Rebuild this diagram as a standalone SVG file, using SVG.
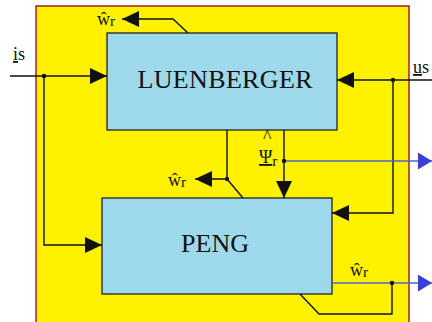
<svg xmlns="http://www.w3.org/2000/svg" width="432" height="322" viewBox="0 0 432 322">
<defs>
<style>
.box{fill:#9DD9EA;stroke:#222;stroke-width:1.3}
.big{font-family:"Liberation Serif",serif;font-size:26px;fill:#111;text-anchor:middle}
.lbl{font-family:"Liberation Serif",serif;font-size:18px;fill:#111}
.sub{font-size:15px}
.w{fill:none;stroke:#111;stroke-width:1.4}
.b{fill:none;stroke:#5060D0;stroke-width:1.6}
.dot{fill:#111}
</style>
<marker id="ah" markerUnits="userSpaceOnUse" markerWidth="17" markerHeight="16" viewBox="0 0 17 16" refX="17" refY="8" orient="auto">
<path d="M0,0 L17,8 L0,16 Z" fill="#111"/>
</marker>
<marker id="bh" markerUnits="userSpaceOnUse" markerWidth="14" markerHeight="17" viewBox="0 0 14 17" refX="14" refY="8.5" orient="auto">
<path d="M0,0 L14,8.5 L0,17 Z" fill="#3A3FD8"/>
</marker>
</defs>
<rect x="36" y="6" width="373" height="330" fill="#FFF200" stroke="#A8202A" stroke-width="1.5"/>
<g id="luenberger">
<rect class="box" x="107" y="33" width="230" height="97"/>
<text class="big" x="225" y="88" textLength="175">LUENBERGER</text>
</g>
<g id="peng">
<rect class="box" x="102" y="198" width="230" height="96"/>
<text class="big" x="215" y="252">PENG</text>
</g>
<g id="connectors">
<path class="w" d="M10,76 H107" marker-end="url(#ah)"/>
<path class="w" d="M44,76 V245 H102" marker-end="url(#ah)"/>
<path class="w" d="M432,80 H337" marker-end="url(#ah)"/>
<path class="w" d="M393,80 V213 H332" marker-end="url(#ah)"/>
<path class="w" d="M188,33 L173,19 H122" marker-end="url(#ah)"/>
<path class="w" d="M227,130 V179 H195" marker-end="url(#ah)"/>
<path class="w" d="M227,179 L243,198"/>
<path class="w" d="M284,130 V198" marker-end="url(#ah)"/>
<path class="b" d="M284,161 H432" marker-end="url(#bh)"/>
<path class="b" d="M332,283 H432" marker-end="url(#bh)"/>
<path class="w" d="M392,283 V314 H319 L300,294"/>
<circle class="dot" cx="44" cy="76" r="2.2"/>
<circle class="dot" cx="393" cy="80" r="2.2"/>
<circle class="dot" cx="227" cy="179" r="2.2"/>
<circle class="dot" cx="284" cy="161" r="2.2"/>
<circle class="dot" cx="392" cy="283" r="2.2"/>
</g>
<g id="labels">
<text class="lbl" x="13" y="60"><tspan text-decoration="underline">i</tspan><tspan>s</tspan></text>
<text class="lbl" x="413" y="73"><tspan text-decoration="underline">u</tspan><tspan>s</tspan></text>
<text class="lbl" x="97" y="25">ŵ<tspan class="sub" dy="1">r</tspan></text>
<text class="lbl" x="168" y="186">ŵ<tspan class="sub" dy="1">r</tspan></text>
<text class="lbl" x="350" y="276">ŵ<tspan class="sub" dy="1">r</tspan></text>
<text class="lbl" x="263" y="143" font-size="12">^</text>
<text class="lbl" x="259" y="163" font-size="19"><tspan text-decoration="underline">Ψ</tspan><tspan class="sub" dy="3">r</tspan></text>
</g>
</svg>
